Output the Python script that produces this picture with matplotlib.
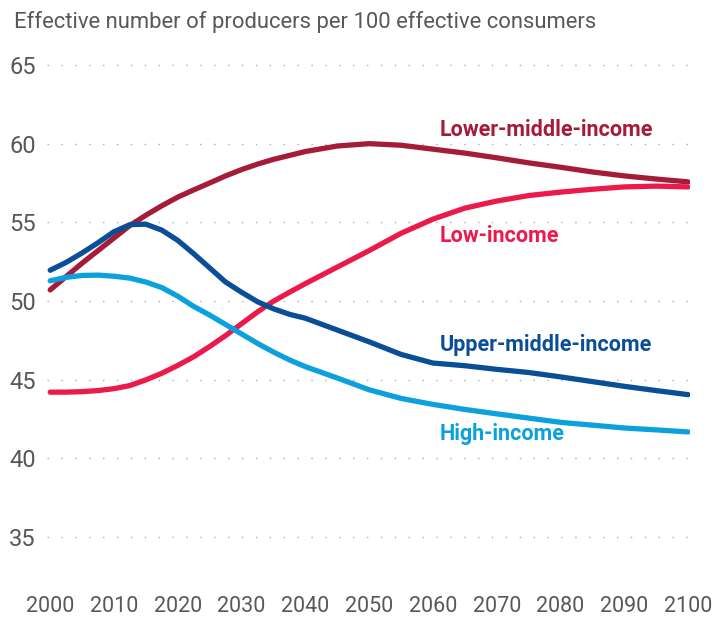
import numpy as np
import matplotlib
matplotlib.use('Agg')
import matplotlib.pyplot as plt

# Data
years = [2000, 2002.5, 2005, 2007.5, 2010, 2012.5, 2015, 2017.5, 2020, 2022.5,
         2025, 2027.5, 2030, 2032.5, 2035, 2037.5, 2040,
         2045, 2050, 2055, 2060, 2065, 2070, 2075, 2080, 2085, 2090, 2095, 2100]
lower_middle = [50.7, 51.55, 52.4, 53.2, 54.0, 54.8, 55.45, 56.05, 56.6, 57.06,
                57.5, 57.95, 58.35, 58.7, 59.0, 59.25, 59.5,
                59.85, 60.0, 59.9, 59.65, 59.4, 59.1, 58.78, 58.5, 58.2, 57.95, 57.75, 57.57]
low = [44.2, 44.2, 44.23, 44.3, 44.42, 44.62, 44.98, 45.4, 45.9, 46.45,
       47.1, 47.8, 48.55, 49.3, 49.98, 50.55, 51.1,
       52.15, 53.2, 54.3, 55.2, 55.9, 56.35, 56.7, 56.92, 57.1, 57.25, 57.3, 57.25]
upper_middle = [51.95, 52.45, 53.05, 53.7, 54.4, 54.85, 54.88, 54.5, 53.85, 53.0,
                52.1, 51.2, 50.55, 49.95, 49.5, 49.15, 48.9,
                48.15, 47.4, 46.6, 46.05, 45.88, 45.65, 45.45, 45.17, 44.87, 44.57, 44.3, 44.04]
high = [51.28, 51.5, 51.62, 51.64, 51.57, 51.45, 51.2, 50.85, 50.3, 49.65,
        49.1, 48.5, 47.9, 47.3, 46.75, 46.25, 45.82,
        45.1, 44.35, 43.8, 43.42, 43.1, 42.82, 42.55, 42.28, 42.1, 41.92, 41.8, 41.67]

series_names = ['Lower-middle-income', 'Low-income', 'Upper-middle-income', 'High-income']
series_values = [lower_middle, low, upper_middle, high]
colors = ['#A51C38', '#EC1A4B', '#0A4E97', '#0AA1DC']
label_pos = [(2061, 60.9), (2061, 54.1), (2061, 47.2), (2061, 41.55)]

y_ticks = [35, 40, 45, 50, 55, 60, 65]
x_ticks = list(range(2000, 2101, 10))
title = 'Effective number of producers per 100 effective consumers'

plt.rcParams['font.family'] = ['Roboto', 'DejaVu Sans']

fig = plt.figure(figsize=(7.25, 6.17), dpi=100)
ax = fig.add_axes([47 / 725, 1 - 584 / 617, (690 - 47) / 725, (584 - 49.3) / 617])

for vals, col in zip(series_values, colors):
    ax.plot(years, vals, color=col, linewidth=3.8, solid_capstyle='round', solid_joinstyle='round', zorder=3)

for name, col, (lx, ly) in zip(series_names, colors, label_pos):
    ax.text(lx, ly, name, color=col, fontsize=15.5, fontweight='bold', ha='left', va='center')

ax.set_xlim(1999.5, 2100.3)
ax.set_ylim(32, 66)
ax.set_yticks(y_ticks)
ax.set_xticks(x_ticks)
ax.tick_params(length=0, labelcolor='#585858')
ax.tick_params(axis='y', pad=8, labelsize=17)
ax.tick_params(axis='x', pad=9, labelsize=15.5)
ax.grid(axis='y', color='#aaaaaa', linestyle=(0, (1, 9)), linewidth=1)
ax.grid(axis='x', visible=False)
for s in ax.spines.values():
    s.set_visible(False)

fig.text(14 / 725, 1 - 22 / 617, title, fontsize=15.8, color='#585858', ha='left', va='center')

fig.savefig('out.png', dpi=100)
